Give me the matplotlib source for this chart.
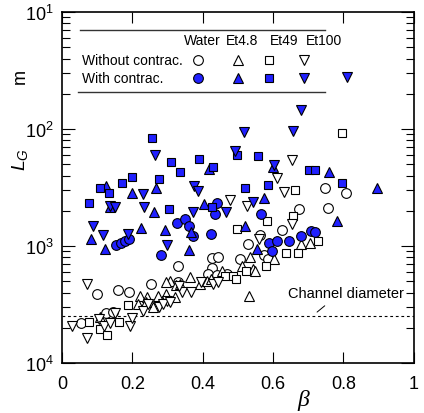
import numpy as np
import matplotlib
matplotlib.use("Agg")
import matplotlib.pyplot as plt
from matplotlib.ticker import LogLocator, FuncFormatter, NullFormatter

plt.rcParams['font.family'] = ['Liberation Sans', 'DejaVu Sans']
plt.rcParams['mathtext.fontset'] = 'custom'
plt.rcParams['mathtext.rm'] = 'Liberation Sans'
plt.rcParams['mathtext.it'] = 'Liberation Sans:italic'

# ---- data: with contraction (filled blue) ----
water_c_beta = [0.155, 0.169, 0.180, 0.190, 0.281, 0.326, 0.350, 0.361, 0.372, 0.425,
                0.435, 0.441, 0.567, 0.589, 0.610, 0.597, 0.645, 0.678, 0.707, 0.719]
water_c_L = [1.02e-3, 1.07e-3, 1.11e-3, 1.15e-3, 8.4e-4, 1.56e-3, 1.71e-3, 1.48e-3, 1.21e-3, 1.27e-3,
             1.88e-3, 2.33e-3, 1.88e-3, 1.06e-3, 1.10e-3, 9.0e-4, 1.10e-3, 1.21e-3, 1.34e-3, 1.33e-3]

et48_c_beta = [0.124, 0.138, 0.200, 0.266, 0.263, 0.084, 0.123, 0.225, 0.294, 0.367,
               0.361, 0.405, 0.418, 0.520, 0.555, 0.573, 0.601, 0.759, 0.782, 0.894]
et48_c_L = [3.26e-3, 2.16e-3, 2.84e-3, 3.12e-3, 1.95e-3, 1.15e-3, 9.5e-4, 1.43e-3, 1.37e-3, 1.32e-3,
            9.3e-4, 2.29e-3, 4.55e-3, 1.47e-3, 9.4e-4, 2.57e-3, 4.71e-3, 4.25e-3, 1.65e-3, 3.12e-3]

et49_c_beta = [0.255, 0.309, 0.335, 0.390, 0.199, 0.170, 0.276, 0.109, 0.134, 0.076,
               0.305, 0.430, 0.498, 0.557, 0.703, 0.720, 0.520, 0.585, 0.795, 0.427]
et49_c_L = [8.3e-3, 5.2e-3, 4.32e-3, 5.5e-3, 3.86e-3, 3.44e-3, 3.72e-3, 3.16e-3, 2.83e-3, 2.35e-3,
            2.07e-3, 4.76e-3, 6.0e-3, 5.88e-3, 4.5e-3, 4.5e-3, 3.13e-3, 3.34e-3, 3.43e-3, 2.14e-3]

et100_c_beta = [0.264, 0.376, 0.387, 0.230, 0.138, 0.151, 0.234, 0.373, 0.087, 0.118,
                0.188, 0.299, 0.465, 0.543, 0.602, 0.491, 0.517, 0.658, 0.678, 0.810]
et100_c_L = [6.0e-3, 3.28e-3, 2.98e-3, 2.78e-3, 2.18e-3, 2.17e-3, 2.14e-3, 1.94e-3, 1.47e-3, 1.25e-3,
             1.27e-3, 1.02e-3, 1.94e-3, 2.39e-3, 4.93e-3, 6.5e-3, 9.5e-3, 9.6e-3, 1.45e-2, 2.78e-2]

# ---- data: without contraction (open) ----
water_n_beta = [0.099, 0.158, 0.190, 0.252, 0.329, 0.053, 0.124, 0.146, 0.331, 0.427,
                0.444, 0.427, 0.416, 0.440, 0.468, 0.506, 0.529, 0.564, 0.574, 0.586,
                0.624, 0.674, 0.748, 0.755, 0.808]
water_n_L = [3.85e-4, 4.2e-4, 4.02e-4, 4.74e-4, 6.8e-4, 2.18e-4, 2.69e-4, 2.71e-4, 4.9e-4, 7.85e-4,
             8.0e-4, 6.45e-4, 5.77e-4, 5.6e-4, 5.77e-4, 7.74e-4, 1.05e-3, 1.25e-3, 8.3e-4, 7.74e-4,
             1.38e-3, 2.07e-3, 3.13e-3, 2.1e-3, 2.84e-3]

et48_n_beta = [0.307, 0.323, 0.222, 0.242, 0.217, 0.269, 0.295, 0.321, 0.259, 0.364,
               0.392, 0.411, 0.425, 0.454, 0.513, 0.534, 0.543, 0.548, 0.602, 0.531,
               0.678, 0.705, 0.274, 0.297, 0.335, 0.240, 0.108]
et48_n_L = [5.05e-4, 4.65e-4, 3.76e-4, 3.64e-4, 3.19e-4, 3.4e-4, 3.89e-4, 3.64e-4, 2.99e-4, 5.4e-4,
            4.74e-4, 5.05e-4, 5.2e-4, 6.15e-4, 6.8e-4, 8.0e-4, 6.35e-4, 6.15e-4, 7.74e-4, 3.71e-4,
            1.04e-3, 1.06e-3, 3.76e-4, 4.9e-4, 4.74e-4, 3.3e-4, 2.47e-4]

et49_n_beta = [0.078, 0.108, 0.129, 0.161, 0.189, 0.463, 0.485, 0.496, 0.523, 0.580,
               0.583, 0.498, 0.638, 0.670, 0.728, 0.657, 0.663, 0.795]
et49_n_L = [2.23e-4, 1.97e-4, 1.74e-4, 2.23e-4, 3.16e-4, 5.52e-4, 5.52e-4, 5.2e-4, 6.15e-4, 6.8e-4,
            1.63e-3, 1.40e-3, 8.7e-4, 8.7e-4, 1.10e-3, 1.81e-3, 2.99e-3, 9.2e-3]

et100_n_beta = [0.070, 0.030, 0.072, 0.105, 0.119, 0.136, 0.150, 0.194, 0.198, 0.231,
                0.245, 0.276, 0.299, 0.288, 0.307, 0.340, 0.368, 0.333, 0.396, 0.430,
                0.444, 0.479, 0.525, 0.610, 0.655, 0.632, 0.561, 0.655]
et100_n_L = [4.74e-4, 2.09e-4, 1.65e-4, 2.4e-4, 2.07e-4, 2.18e-4, 2.68e-4, 2.09e-4, 2.42e-4, 2.76e-4,
             3.19e-4, 2.99e-4, 3.4e-4, 3.19e-4, 3.3e-4, 4.02e-4, 4.02e-4, 4.52e-4, 4.9e-4, 4.74e-4,
             4.9e-4, 2.47e-3, 2.21e-3, 3.81e-3, 5.43e-3, 2.9e-3, 1.14e-3, 1.54e-3]

channel_diameter = 2.5e-4

fluids = ["Water", "Et4.8", "Et49", "Et100"]
row_labels = ["Without contrac.", "With contrac."]
x_ticks = [0, 0.2, 0.4, 0.6, 0.8, 1]
x_tick_labels = ["0", "0.2", "0.4", "0.6", "0.8", "1"]

BLUE = '#2020ff'
markers = ['o', '^', 's', 'v']
msizes = [7.0, 7.6, 6.4, 7.6]

fig = plt.figure(figsize=(4.24, 4.14), dpi=100)
ax = fig.add_axes([0.146, 0.1208, 0.830, 0.8478])

open_sets = [(water_n_beta, water_n_L), (et48_n_beta, et48_n_L),
             (et49_n_beta, et49_n_L), (et100_n_beta, et100_n_L)]
filled_sets = [(water_c_beta, water_c_L), (et48_c_beta, et48_c_L),
               (et49_c_beta, et49_c_L), (et100_c_beta, et100_c_L)]

for (b, L), m, ms in zip(open_sets, markers, msizes):
    ax.plot(b, L, linestyle='none', marker=m, markersize=ms, markerfacecolor='white',
            markeredgecolor='black', markeredgewidth=0.8, zorder=3)
for (b, L), m, ms in zip(filled_sets, markers, msizes):
    ax.plot(b, L, linestyle='none', marker=m, markersize=ms, markerfacecolor=BLUE,
            markeredgecolor='black', markeredgewidth=0.8, zorder=4)

ax.axhline(channel_diameter, color='black', linestyle=(0, (2.5, 2.5)), linewidth=0.8, zorder=2)
ax.annotate("", xy=(0.719, 0.140), xytext=(0.753, 0.168), xycoords='axes fraction',
            arrowprops=dict(arrowstyle='-', color='black', linewidth=0.7))
ax.text(0.972, 0.199, "Channel diameter", transform=ax.transAxes, ha='right', va='center',
        fontsize=10.5)

ax.set_yscale('log')
ax.set_ylim(1e-4, 1e-1)
ax.set_xlim(0, 1)
ax.set_xticks(x_ticks)
ax.set_xticklabels(x_tick_labels)
ax.yaxis.set_major_locator(LogLocator(base=10, numticks=10))
ax.yaxis.set_minor_locator(LogLocator(base=10, subs=np.arange(2, 10), numticks=20))
ax.yaxis.set_major_formatter(FuncFormatter(lambda v, p: r"$10^{%d}$" % (-int(round(np.log10(v))))))
ax.yaxis.set_minor_formatter(NullFormatter())

ax.tick_params(axis='both', which='both', direction='in', top=True, right=True, width=0.8)
ax.tick_params(axis='x', which='major', length=8, labelsize=13, pad=9)
ax.tick_params(axis='y', which='major', length=9.5, labelsize=13, pad=6)
ax.tick_params(axis='y', which='minor', length=5.5)
for s in ax.spines.values():
    s.set_linewidth(1.2)

# table-like legend
ax.plot([0.051, 0.747], [0.949, 0.949], transform=ax.transAxes, color='#333333', linewidth=1.0, clip_on=False)
ax.plot([0.045, 0.747], [0.772, 0.772], transform=ax.transAxes, color='#333333', linewidth=1.0, clip_on=False)
header_x = [0.399, 0.513, 0.632, 0.746]
for hx, name in zip(header_x, fluids):
    ax.text(hx, 0.920, name, transform=ax.transAxes, ha='center', va='center', fontsize=10)
row_y = [0.863, 0.812]
for ry, lab in zip(row_y, row_labels):
    ax.text(0.057, ry, lab, transform=ax.transAxes, ha='left', va='center', fontsize=10)
mk_x = [0.386, 0.500, 0.588, 0.688]
for mx, m, ms in zip(mk_x, markers, msizes):
    ax.plot([mx], [row_y[0]], transform=ax.transAxes, linestyle='none', marker=m, markersize=ms,
            markerfacecolor='white', markeredgecolor='black', markeredgewidth=0.8)
    ax.plot([mx], [row_y[1]], transform=ax.transAxes, linestyle='none', marker=m, markersize=ms,
            markerfacecolor=BLUE, markeredgecolor='black', markeredgewidth=0.8)

# axis labels
fig.text(20 / 424, 1 - 160 / 414, r"$L_G$", rotation=90, ha='center', va='center', fontsize=14)
fig.text(20 / 424, 1 - 76 / 414, "m", rotation=90, ha='center', va='center', fontsize=13)
fig.text(303 / 424, 1 - 401 / 414, "β", ha='center', va='center', fontsize=17,
         family=['Liberation Serif', 'DejaVu Serif'], style='italic')

fig.savefig("out.png", dpi=100)
